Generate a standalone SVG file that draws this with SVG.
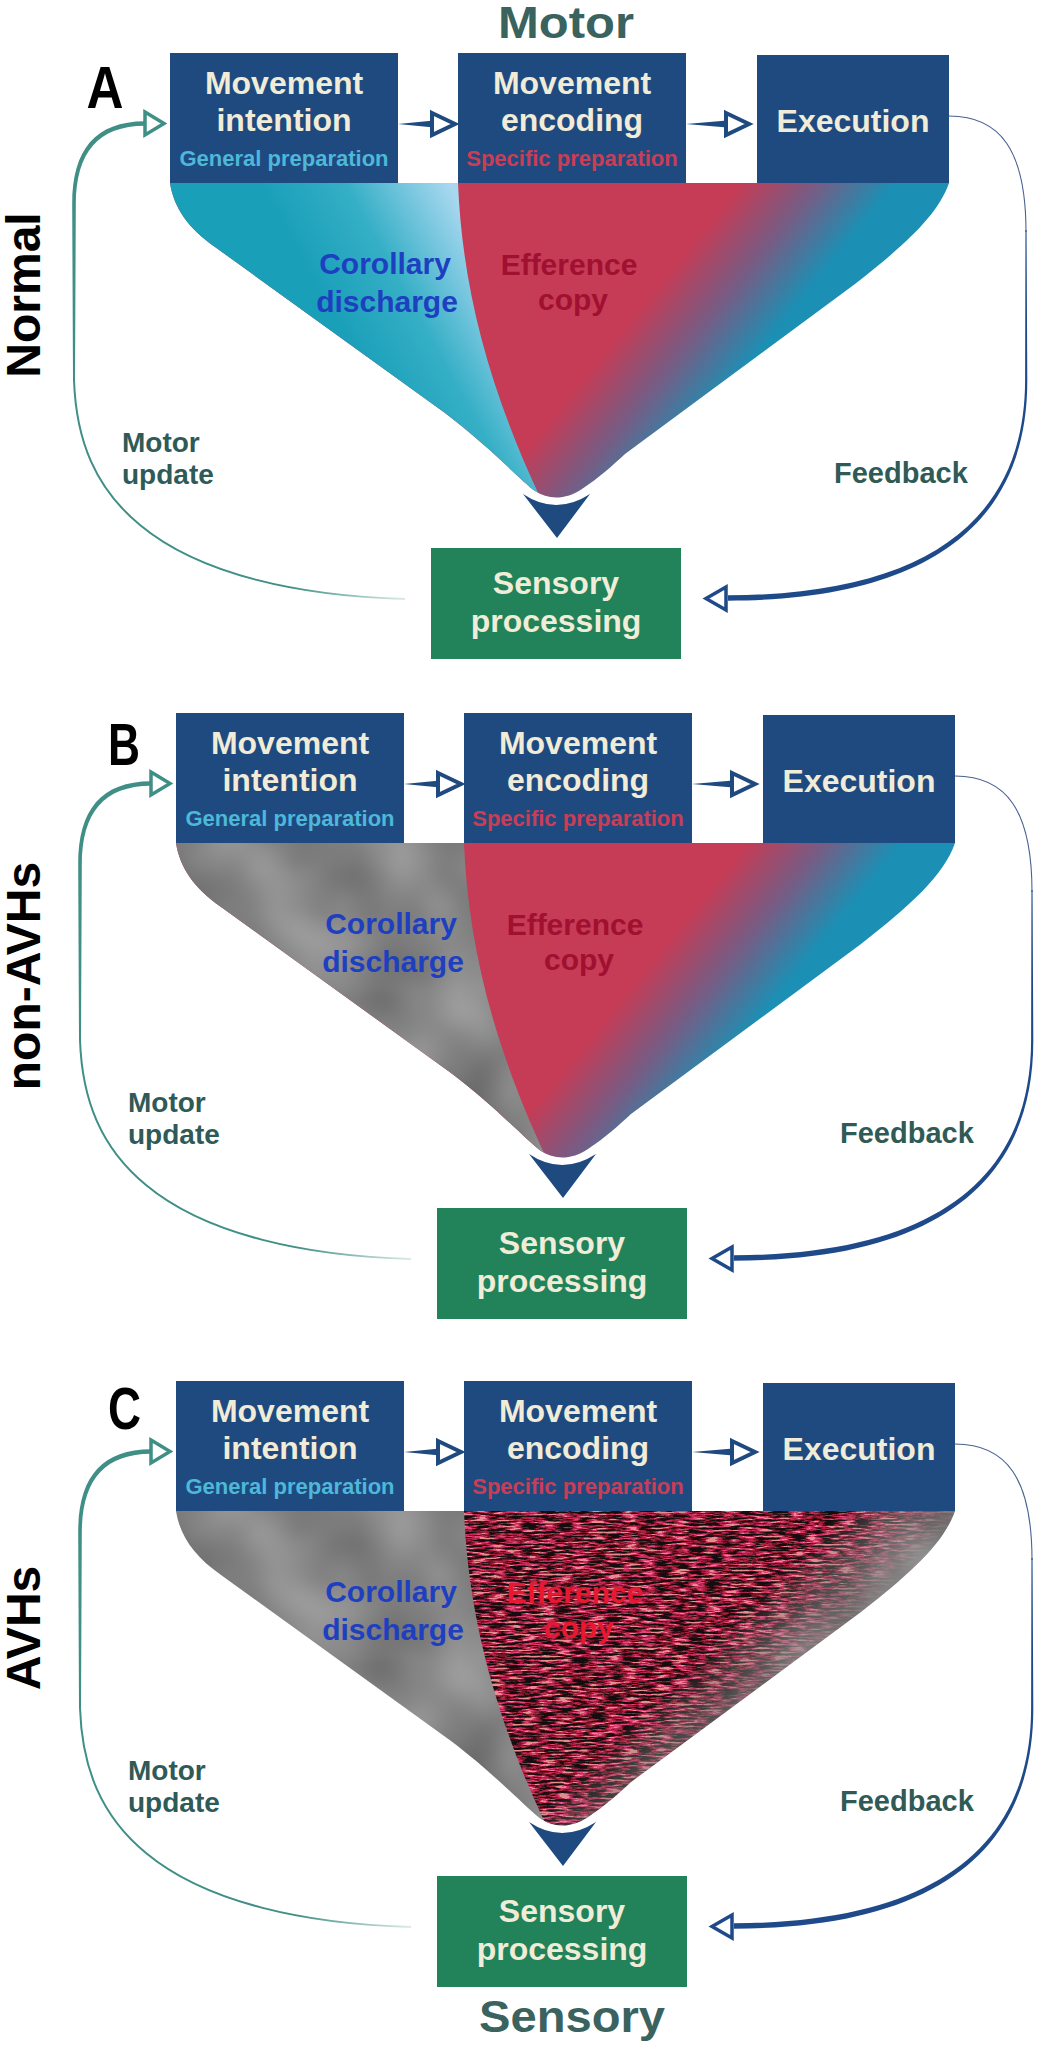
<svg xmlns="http://www.w3.org/2000/svg" width="1038" height="2048" viewBox="0 0 1038 2048">
<style>
text{font-family:"Liberation Sans",Arial,Helvetica,sans-serif;font-weight:bold}
.box{fill:#1F4A80}
.sbox{fill:#228259}
.bt{font-size:32px;fill:#F0ECD8;text-anchor:middle}
.gp{font-size:22px;fill:#4DB8D8;text-anchor:middle}
.sp{font-size:22px;fill:#C93E56;text-anchor:middle}
.cd{font-size:30px;fill:#1E40C0;text-anchor:middle}
.ec{font-size:30px;fill:#A01030;text-anchor:middle}
.ecc{font-size:30px;fill:#E81830;text-anchor:middle}
.lbl{font-size:28px;fill:#2F5A56}
.fb{font-size:29px;fill:#2F5A56}
.ttl{font-size:44px;fill:#3A625F;text-anchor:middle}
.pl{font-size:60px;fill:#000;text-anchor:middle}
.side{font-size:48px;fill:#000;text-anchor:middle}
.navyHead{fill:#fff;stroke:#1F4A80;stroke-width:4;stroke-linejoin:miter}
.tealHead{fill:#fff;stroke:#3F8F86;stroke-width:3.5}
.fbHead{fill:#fff;stroke:#1F4A8A;stroke-width:3.5}
.shaft{fill:#1F4A80}
.tealFill{fill:#3F8F86}
.tealThin{fill:none;stroke:url(#fadeTeal);stroke-width:2}
.fbThin{fill:none;stroke:#4A6190;stroke-width:1.1}
.navyFill{fill:#1F4A8A}
.down{fill:#1F4A80}
</style>
<defs>
  <clipPath id="funnelClip">
    <path d="M170,183 C174,208 188,228 215,247 L445,413 C490,447 520,480 535,491 C548,500 566,500 582,489 C600,477 612,466 625,454 L855,284 C905,245 938,215 949,183 Z"/>
  </clipPath>
  <linearGradient id="effGrad" gradientUnits="userSpaceOnUse" x1="771" y1="145" x2="865" y2="221">
    <stop offset="0" stop-color="#C63B55"/>
    <stop offset="0.5" stop-color="#775C84"/>
    <stop offset="1" stop-color="#1C8FB4"/>
  </linearGradient>
  <linearGradient id="corGrad" gradientUnits="userSpaceOnUse" x1="310" y1="275" x2="455" y2="195">
    <stop offset="0" stop-color="#1A9FB9"/>
    <stop offset="0.45" stop-color="#35AFC6"/>
    <stop offset="1" stop-color="#A8D8F0"/>
  </linearGradient>
  <linearGradient id="fadeTeal" gradientUnits="userSpaceOnUse" x1="290" y1="0" x2="410" y2="0">
    <stop offset="0" stop-color="#3F8F86"/>
    <stop offset="1" stop-color="#3F8F86" stop-opacity="0.15"/>
  </linearGradient>
  <linearGradient id="fadeGrad" gradientUnits="userSpaceOnUse" x1="745" y1="272" x2="809" y2="336">
    <stop offset="0" stop-color="#fff"/>
    <stop offset="1" stop-color="#000"/>
  </linearGradient>
  <mask id="texMask" maskUnits="userSpaceOnUse" x="100" y="150" width="900" height="400">
    <rect x="100" y="150" width="900" height="400" fill="url(#fadeGrad)"/>
  </mask>
  <filter id="grayMottle" color-interpolation-filters="sRGB">
    <feTurbulence type="fractalNoise" baseFrequency="0.012" numOctaves="2" seed="2"/>
    <feColorMatrix type="matrix" values="0.3 0 0 0 0.37  0.3 0 0 0 0.37  0.3 0 0 0 0.37  0 0 0 0 1"/>
    <feComposite in2="SourceAlpha" operator="in"/>
  </filter>
  <filter id="noiseTex" color-interpolation-filters="sRGB">
    <feTurbulence type="fractalNoise" baseFrequency="0.06 0.5" numOctaves="3" seed="4"/>
    <feColorMatrix type="matrix" values="2.6 0 0 0 -0.9  2.6 0 0 0 -0.9  2.6 0 0 0 -0.9  0 0 0 0 1"/>
    <feComponentTransfer>
      <feFuncR type="discrete" tableValues="0.08 0.22 0.45 0.66 0.78 0.88 0.9"/>
      <feFuncG type="discrete" tableValues="0.05 0.06 0.09 0.13 0.18 0.28 0.55"/>
      <feFuncB type="discrete" tableValues="0.06 0.09 0.16 0.25 0.36 0.48 0.55"/>
    </feComponentTransfer>
    <feComposite in2="SourceAlpha" operator="in"/>
  </filter>
</defs>

<rect width="1038" height="2048" fill="#fff"/>

<!-- Titles and side labels -->
<g id="titles">
  <text class="ttl" x="566" y="38" textLength="136" lengthAdjust="spacingAndGlyphs">Motor</text>
  <text class="ttl" x="572" y="2032" textLength="186" lengthAdjust="spacingAndGlyphs">Sensory</text>
  <text class="pl" x="105" y="108" textLength="37" lengthAdjust="spacingAndGlyphs">A</text>
  <text class="pl" x="124" y="765" textLength="32" lengthAdjust="spacingAndGlyphs">B</text>
  <text class="pl" x="124.5" y="1429" textLength="33" lengthAdjust="spacingAndGlyphs">C</text>
  <text class="side" transform="translate(40,295) rotate(-90)">Normal</text>
  <text class="side" transform="translate(40,976) rotate(-90)">non-AVHs</text>
  <text class="side" transform="translate(40,1628) rotate(-90)">AVHs</text>
</g>

<!-- ============ PANEL A ============ -->
<g id="panelA">
  <g id="A-funnel" clip-path="url(#funnelClip)">
    <rect x="150" y="180" width="820" height="340" fill="url(#effGrad)"/>
    <path d="M150,180 L458,180 L458,183 C462,280 485,380 540,497 L548,530 L150,530 Z" fill="url(#corGrad)"/>
  </g>
  <g id="A-funnel-labels">
    <text class="cd" x="385" y="274">Corollary</text>
    <text class="cd" x="387" y="312">discharge</text>
    <text class="ec" x="569" y="275">Efference</text>
    <text class="ec" x="573" y="310">copy</text>
  </g>
  <g id="A-intention">
    <rect class="box" x="170" y="53" width="228" height="130"/>
    <text class="bt" x="284" y="94">Movement</text>
    <text class="bt" x="284" y="131">intention</text>
    <text class="gp" x="284" y="166">General preparation</text>
  </g>
  <g id="A-encoding">
    <rect class="box" x="458" y="53" width="228" height="130"/>
    <text class="bt" x="572" y="94">Movement</text>
    <text class="bt" x="572" y="131">encoding</text>
    <text class="sp" x="572" y="166">Specific preparation</text>
  </g>
  <g id="A-execution">
    <rect class="box" x="757" y="55" width="192" height="128"/>
    <text class="bt" x="853" y="132">Execution</text>
  </g>
  <g id="A-sensory">
    <rect class="sbox" x="431" y="548" width="250" height="111"/>
    <text class="bt" x="556" y="594">Sensory</text>
    <text class="bt" x="556" y="632">processing</text>
  </g>
  <g id="A-connectors">
    <path class="shaft" d="M398,124 L434,120.5 L434,127.5 Z"/>
    <path class="navyHead" d="M432,113 L455,124 L432,135 Z"/>
    <path class="shaft" d="M686,124 L727,120.5 L727,127.5 Z"/>
    <path class="navyHead" d="M726,113 L749,124 L726,135 Z"/>
    <path class="down" d="M523,494 Q556,516 590,494 L557,538 Z"/>
    <path class="tealThin" d="M74,380 C76,440 95,488 140,525 C200,575 300,596 405,599"/>
    <path class="tealFill" d="M73,380 L72.2,205 C72,150 95,121.5 145,121.3 L145,125.7 C98,126 76,152 75.8,205 L75,380 Z"/>
    <path class="tealHead" d="M145,112 L164,123.5 L145,135 Z"/>
    <path class="fbThin" d="M949,116 C1000,116 1026,150 1026,232"/>
    <path class="navyFill" d="M1025.45,230 L1025.1,380 C1025,517 931,594.7 728,595.3 L728,600.7 C933,600.3 1027.8,520 1027.3,380 L1026.55,230 Z"/>
    <path class="fbHead" d="M726,587 L706,598.5 L726,610 Z"/>
  </g>
  <g id="A-connector-labels">
    <text class="lbl" x="122" y="452">Motor</text>
    <text class="lbl" x="122" y="484">update</text>
    <text class="fb" x="834" y="483">Feedback</text>
  </g>
</g>

<!-- ============ PANEL B ============ -->
<g id="panelB" transform="translate(6,660)">
  <g id="B-funnel" clip-path="url(#funnelClip)">
    <rect x="150" y="180" width="820" height="340" fill="url(#effGrad)"/>
    <path d="M150,180 L458,180 L458,183 C462,280 485,380 540,497 L548,530 L150,530 Z" fill="#868686" filter="url(#grayMottle)"/>
  </g>
  <g id="B-funnel-labels">
    <text class="cd" x="385" y="274">Corollary</text>
    <text class="cd" x="387" y="312">discharge</text>
    <text class="ec" x="569" y="275">Efference</text>
    <text class="ec" x="573" y="310">copy</text>
  </g>
  <g id="B-intention">
    <rect class="box" x="170" y="53" width="228" height="130"/>
    <text class="bt" x="284" y="94">Movement</text>
    <text class="bt" x="284" y="131">intention</text>
    <text class="gp" x="284" y="166">General preparation</text>
  </g>
  <g id="B-encoding">
    <rect class="box" x="458" y="53" width="228" height="130"/>
    <text class="bt" x="572" y="94">Movement</text>
    <text class="bt" x="572" y="131">encoding</text>
    <text class="sp" x="572" y="166">Specific preparation</text>
  </g>
  <g id="B-execution">
    <rect class="box" x="757" y="55" width="192" height="128"/>
    <text class="bt" x="853" y="132">Execution</text>
  </g>
  <g id="B-sensory">
    <rect class="sbox" x="431" y="548" width="250" height="111"/>
    <text class="bt" x="556" y="594">Sensory</text>
    <text class="bt" x="556" y="632">processing</text>
  </g>
  <g id="B-connectors">
    <path class="shaft" d="M398,124 L434,120.5 L434,127.5 Z"/>
    <path class="navyHead" d="M432,113 L455,124 L432,135 Z"/>
    <path class="shaft" d="M686,124 L727,120.5 L727,127.5 Z"/>
    <path class="navyHead" d="M726,113 L749,124 L726,135 Z"/>
    <path class="down" d="M523,494 Q556,516 590,494 L557,538 Z"/>
    <path class="tealThin" d="M74,380 C76,440 95,488 140,525 C200,575 300,596 405,599"/>
    <path class="tealFill" d="M73,380 L72.2,205 C72,150 95,121.5 145,121.3 L145,125.7 C98,126 76,152 75.8,205 L75,380 Z"/>
    <path class="tealHead" d="M145,112 L164,123.5 L145,135 Z"/>
    <path class="fbThin" d="M949,116 C1000,116 1026,150 1026,232"/>
    <path class="navyFill" d="M1025.45,230 L1025.1,380 C1025,517 931,594.7 728,595.3 L728,600.7 C933,600.3 1027.8,520 1027.3,380 L1026.55,230 Z"/>
    <path class="fbHead" d="M726,587 L706,598.5 L726,610 Z"/>
  </g>
  <g id="B-connector-labels">
    <text class="lbl" x="122" y="452">Motor</text>
    <text class="lbl" x="122" y="484">update</text>
    <text class="fb" x="834" y="483">Feedback</text>
  </g>
</g>

<!-- ============ PANEL C ============ -->
<g id="panelC" transform="translate(6,1328)">
  <g id="C-funnel" clip-path="url(#funnelClip)">
    <rect x="150" y="180" width="820" height="340" fill="#868686" filter="url(#grayMottle)"/>
    <path d="M458,183 L980,183 L980,530 L548,530 L540,497 C485,380 462,280 458,183 Z" fill="#000" filter="url(#noiseTex)" mask="url(#texMask)"/>
  </g>
  <g id="C-funnel-labels">
    <text class="cd" x="385" y="274">Corollary</text>
    <text class="cd" x="387" y="312">discharge</text>
    <text class="ecc" x="569" y="275">Efference</text>
    <text class="ecc" x="573" y="310">copy</text>
  </g>
  <g id="C-intention">
    <rect class="box" x="170" y="53" width="228" height="130"/>
    <text class="bt" x="284" y="94">Movement</text>
    <text class="bt" x="284" y="131">intention</text>
    <text class="gp" x="284" y="166">General preparation</text>
  </g>
  <g id="C-encoding">
    <rect class="box" x="458" y="53" width="228" height="130"/>
    <text class="bt" x="572" y="94">Movement</text>
    <text class="bt" x="572" y="131">encoding</text>
    <text class="sp" x="572" y="166">Specific preparation</text>
  </g>
  <g id="C-execution">
    <rect class="box" x="757" y="55" width="192" height="128"/>
    <text class="bt" x="853" y="132">Execution</text>
  </g>
  <g id="C-sensory">
    <rect class="sbox" x="431" y="548" width="250" height="111"/>
    <text class="bt" x="556" y="594">Sensory</text>
    <text class="bt" x="556" y="632">processing</text>
  </g>
  <g id="C-connectors">
    <path class="shaft" d="M398,124 L434,120.5 L434,127.5 Z"/>
    <path class="navyHead" d="M432,113 L455,124 L432,135 Z"/>
    <path class="shaft" d="M686,124 L727,120.5 L727,127.5 Z"/>
    <path class="navyHead" d="M726,113 L749,124 L726,135 Z"/>
    <path class="down" d="M523,494 Q556,516 590,494 L557,538 Z"/>
    <path class="tealThin" d="M74,380 C76,440 95,488 140,525 C200,575 300,596 405,599"/>
    <path class="tealFill" d="M73,380 L72.2,205 C72,150 95,121.5 145,121.3 L145,125.7 C98,126 76,152 75.8,205 L75,380 Z"/>
    <path class="tealHead" d="M145,112 L164,123.5 L145,135 Z"/>
    <path class="fbThin" d="M949,116 C1000,116 1026,150 1026,232"/>
    <path class="navyFill" d="M1025.45,230 L1025.1,380 C1025,517 931,594.7 728,595.3 L728,600.7 C933,600.3 1027.8,520 1027.3,380 L1026.55,230 Z"/>
    <path class="fbHead" d="M726,587 L706,598.5 L726,610 Z"/>
  </g>
  <g id="C-connector-labels">
    <text class="lbl" x="122" y="452">Motor</text>
    <text class="lbl" x="122" y="484">update</text>
    <text class="fb" x="834" y="483">Feedback</text>
  </g>
</g>
</svg>
